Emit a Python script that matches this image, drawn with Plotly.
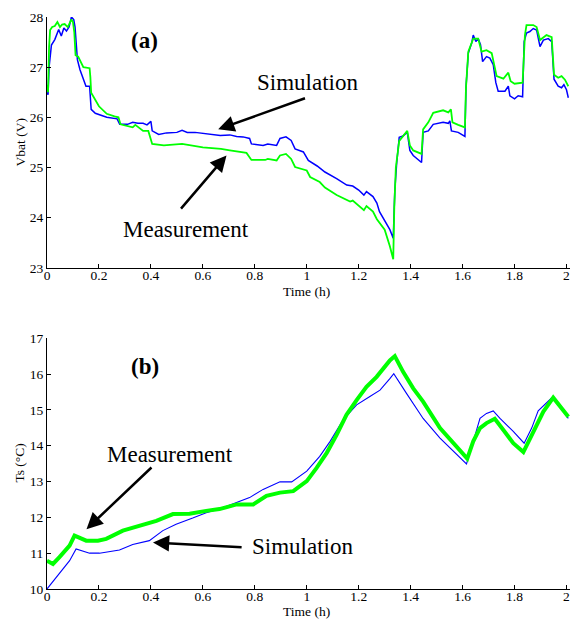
import plotly.graph_objects as go

# ---------------- (a) battery voltage ----------------
t_sim_a = [0.0, 0.004, 0.008, 0.017, 0.03, 0.045, 0.055, 0.065, 0.075, 0.085, 0.094, 0.103, 0.108, 0.112,
           0.117, 0.127, 0.137, 0.15, 0.164, 0.166, 0.17, 0.186, 0.21, 0.23, 0.27, 0.28, 0.31, 0.33, 0.35,
           0.37, 0.385, 0.4, 0.405, 0.43, 0.46, 0.5, 0.52, 0.54, 0.57, 0.6, 0.64, 0.667, 0.704, 0.73, 0.755,
           0.78, 0.787, 0.832, 0.85, 0.884, 0.897, 0.92, 0.94, 0.955, 0.987, 1.006, 1.04, 1.07, 1.115, 1.154,
           1.177, 1.2, 1.22, 1.23, 1.255, 1.27, 1.28, 1.3, 1.32, 1.333, 1.339, 1.346, 1.356, 1.371, 1.387,
           1.397, 1.41, 1.442, 1.448, 1.468, 1.487, 1.525, 1.545, 1.551, 1.557, 1.583, 1.609, 1.613, 1.622,
           1.635, 1.641, 1.651, 1.66, 1.669, 1.677, 1.692, 1.705, 1.718, 1.728, 1.737, 1.763, 1.776, 1.782,
           1.8, 1.814, 1.831, 1.837, 1.846, 1.859, 1.872, 1.885, 1.898, 1.911, 1.93, 1.943, 1.952, 1.968,
           1.981, 1.99, 2.0, 2.007]
v_sim_a = [26.5, 26.45, 27.0, 27.44, 27.55, 27.75, 27.62, 27.78, 27.72, 27.8, 28.0, 27.95, 27.8, 27.44,
           27.15, 26.95, 26.82, 26.62, 26.62, 26.5, 26.16, 26.08, 26.03, 26.0, 25.97, 25.86, 25.86, 25.9, 25.88,
           25.88, 25.85, 25.92, 25.73, 25.66, 25.69, 25.7, 25.74, 25.7, 25.7, 25.68, 25.66, 25.64, 25.65, 25.62, 25.61,
           25.58, 25.47, 25.44, 25.47, 25.44, 25.58, 25.61, 25.54, 25.37, 25.31, 25.14, 25.03, 24.91, 24.78, 24.65,
           24.63, 24.55, 24.45, 24.52, 24.42, 24.29, 24.12, 23.95, 23.76, 23.59, 24.54, 25.07, 25.6, 25.63, 25.7,
           25.34, 25.24, 25.1, 25.7, 25.73, 25.86, 25.9, 25.88, 25.93, 25.73, 25.7, 25.62, 26.59, 27.28,
           27.48, 27.64, 27.51, 27.57, 27.45, 27.11, 27.21, 27.18, 27.05, 26.69, 26.52, 26.52, 26.62, 26.43,
           26.37, 26.43, 26.41, 27.51, 27.68, 27.71, 27.77, 27.74, 27.41, 27.54, 27.57, 27.51, 26.76, 26.62,
           26.59, 26.65, 26.55, 26.39]

t_meas_a = [0.0, 0.004, 0.008, 0.012, 0.02, 0.03, 0.04, 0.05, 0.058, 0.068, 0.08, 0.094, 0.1, 0.105, 0.11,
            0.12, 0.14, 0.164, 0.167, 0.17, 0.2, 0.23, 0.26, 0.275, 0.283, 0.31, 0.33, 0.34, 0.37, 0.39, 0.405,
            0.45, 0.52, 0.6, 0.67, 0.704, 0.768, 0.787, 0.84, 0.85, 0.884, 0.897, 0.92, 0.94, 0.955, 1.0, 1.013,
            1.05, 1.07, 1.115, 1.167, 1.177, 1.22, 1.23, 1.255, 1.27, 1.3, 1.32, 1.333, 1.337, 1.343, 1.356,
            1.371, 1.387, 1.397, 1.41, 1.442, 1.448, 1.468, 1.487, 1.525, 1.545, 1.555, 1.561, 1.583, 1.609,
            1.613, 1.622, 1.641, 1.66, 1.673, 1.692, 1.712, 1.72, 1.731, 1.757, 1.776, 1.785, 1.8, 1.831, 1.84,
            1.846, 1.872, 1.885, 1.898, 1.923, 1.943, 1.952, 1.968, 1.981, 1.994, 2.007]
v_meas_a = [26.65, 26.5, 27.4, 27.74, 27.8, 27.82, 27.9, 27.8, 27.85, 27.86, 27.8, 27.95, 27.9, 27.7, 27.24,
            27.21, 27.0, 26.98, 26.8, 26.49, 26.22, 26.07, 26.02, 26.0, 25.86, 25.83, 25.8, 25.85, 25.73, 25.73, 25.47,
            25.44, 25.47, 25.4, 25.37, 25.34, 25.29, 25.15, 25.15, 25.17, 25.14, 25.24, 25.27, 25.17, 25.01, 24.94, 24.81,
            24.71, 24.6, 24.45, 24.32, 24.34, 24.15, 24.23, 24.12, 23.97, 23.76, 23.43, 23.17, 24.2, 25.0, 25.53,
            25.63, 25.73, 25.44, 25.34, 25.27, 25.76, 25.9, 26.09, 26.14, 26.1, 26.16, 25.9, 25.85, 25.8,
            26.59, 27.31, 27.57, 27.57, 27.31, 27.34, 27.28, 27.08, 26.82, 26.77, 26.89, 26.72, 26.67, 26.69, 27.64,
            27.84, 27.84, 27.8, 27.54, 27.64, 27.6, 26.85, 26.79, 26.82, 26.75, 26.62]

# ---------------- (b) surface temperature ----------------
t_sim_b = [0.0, 0.048, 0.087, 0.112, 0.164, 0.202, 0.279, 0.33, 0.394, 0.446, 0.497, 0.561, 0.613, 0.664,
           0.73, 0.78, 0.832, 0.897, 0.942, 1.0, 1.05, 1.09, 1.14, 1.192, 1.243, 1.282, 1.32, 1.335, 1.384,
           1.448, 1.513, 1.577, 1.615, 1.641, 1.667, 1.692, 1.718, 1.744, 1.795, 1.837, 1.866, 1.891, 1.917,
           1.945, 1.975, 2.007]
v_sim_b = [10.0, 10.43, 10.79, 11.12, 11.0, 11.0, 11.09, 11.24, 11.35, 11.63, 11.81, 11.98, 12.13, 12.23,
           12.41, 12.55, 12.78, 12.99, 12.99, 13.29, 13.7, 14.12, 14.72, 15.14, 15.37, 15.55, 15.87, 16.01, 15.46,
           14.76, 14.21, 13.75, 13.49, 14.12, 14.76, 14.9, 14.97, 14.76, 14.4, 14.07, 14.49, 14.97, 15.14,
           15.35, 15.09, 14.76]

t_meas_b = [0.0, 0.023, 0.048, 0.087, 0.106, 0.125, 0.151, 0.196, 0.228, 0.292, 0.357, 0.421, 0.485, 0.549,
            0.613, 0.664, 0.73, 0.794, 0.845, 0.897, 0.948, 1.0, 1.038, 1.077, 1.115, 1.153, 1.192, 1.23, 1.269,
            1.32, 1.339, 1.371, 1.41, 1.448, 1.513, 1.577, 1.618, 1.641, 1.667, 1.692, 1.724, 1.757, 1.795, 1.834,
            1.872, 1.911, 1.949, 1.975, 2.007]
v_meas_b = [10.79, 10.7, 10.89, 11.21, 11.49, 11.44, 11.35, 11.35, 11.4, 11.63, 11.76, 11.9, 12.09, 12.1,
            12.18, 12.23, 12.36, 12.36, 12.6, 12.69, 12.73, 13.01, 13.38, 13.8, 14.3, 14.86, 15.27, 15.64, 15.92,
            16.38, 16.5, 16.06, 15.6, 15.23, 14.49, 13.98, 13.64, 14.12, 14.49, 14.63, 14.75, 14.44, 14.07, 13.82,
            14.4, 14.95, 15.34, 15.09, 14.81]

x_ticks = [0, 0.2, 0.4, 0.6, 0.8, 1, 1.2, 1.4, 1.6, 1.8, 2]
x_ticktext = ["0", "0.2", "0.4", "0.6", "0.8", "1", "1.2", "1.4", "1.6", "1.8", "2"]
y_ticks_a = [23, 24, 25, 26, 27, 28]
y_ticks_b = [10, 11, 12, 13, 14, 15, 16, 17]

BLUE = "#0000ff"
GREEN = "#00ff00"
FONT = "Liberation Serif"

fig = go.Figure()
fig.add_trace(go.Scatter(x=t_sim_a, y=v_sim_a, mode="lines", line=dict(color=BLUE, width=1.5),
                         xaxis="x", yaxis="y", showlegend=False))
fig.add_trace(go.Scatter(x=t_meas_a, y=v_meas_a, mode="lines", line=dict(color=GREEN, width=1.8),
                         xaxis="x", yaxis="y", showlegend=False))
fig.add_trace(go.Scatter(x=t_sim_b, y=v_sim_b, mode="lines", line=dict(color=BLUE, width=1.1),
                         xaxis="x2", yaxis="y2", showlegend=False))
fig.add_trace(go.Scatter(x=t_meas_b, y=v_meas_b, mode="lines", line=dict(color=GREEN, width=4),
                         xaxis="x2", yaxis="y2", showlegend=False))

axis_common = dict(showline=True, linecolor="black", linewidth=1, ticks="inside", ticklen=4,
                   tickcolor="black", tickwidth=1, showgrid=False, zeroline=False,
                   tickfont=dict(family=FONT, size=13.5, color="black"))

fig.update_layout(
    width=580, height=619,
    margin=dict(l=47, r=10, t=12, b=30),
    paper_bgcolor="white", plot_bgcolor="white",
    xaxis=dict(domain=[0, 1], anchor="y", range=[0, 2.0135], tickvals=x_ticks, ticktext=x_ticktext,
               ticklabelstandoff=-5, **axis_common),
    yaxis=dict(domain=[0.5615, 1], anchor="x", range=[23, 28], tickvals=y_ticks_a, **axis_common),
    xaxis2=dict(domain=[0, 1], anchor="y2", range=[0, 2.0135], tickvals=x_ticks, ticktext=x_ticktext,
                ticklabelstandoff=-5, **axis_common),
    yaxis2=dict(domain=[0, 0.4385], anchor="x2", range=[10, 17], tickvals=y_ticks_b, **axis_common),
)

annots = []
big = dict(family=FONT, size=23, color="black")
bold = dict(family=FONT, size=23, color="black")
small = dict(family=FONT, size=13.5, color="black")

# panel labels
annots.append(dict(text="<b>(a)</b>", x=0.376, y=27.54, xref="x", yref="y", showarrow=False, font=bold))
annots.append(dict(text="<b>(b)</b>", x=0.376, y=16.2, xref="x2", yref="y2", showarrow=False, font=bold))
# text labels
annots.append(dict(text="Simulation", x=1.004, y=26.69, xref="x", yref="y", showarrow=False, font=big))
annots.append(dict(text="Measurement", x=0.534, y=23.77, xref="x", yref="y", showarrow=False, font=big))
annots.append(dict(text="Measurement", x=0.473, y=13.76, xref="x2", yref="y2", showarrow=False, font=big))
annots.append(dict(text="Simulation", x=0.985, y=11.18, xref="x2", yref="y2", showarrow=False, font=big))
# arrows
arrow = dict(text="", showarrow=True, arrowhead=2, arrowsize=1.3, arrowwidth=2.5, arrowcolor="black")
annots.append(dict(x=0.659, y=25.76, ax=0.999, ay=26.39, xref="x", yref="y", axref="x", ayref="y", **arrow))
annots.append(dict(x=0.691, y=25.24, ax=0.511, ay=24.15, xref="x", yref="y", axref="x", ayref="y", **arrow))
annots.append(dict(x=0.152, y=11.67, ax=0.408, ay=13.43, xref="x2", yref="y2", axref="x2", ayref="y2", **arrow))
annots.append(dict(x=0.408, y=11.30, ax=0.755, ay=11.16, xref="x2", yref="y2", axref="x2", ayref="y2", **arrow))
# axis titles
annots.append(dict(text="Time (h)", x=1.0, y=23, xref="x", yref="y", yshift=-24, showarrow=False, font=small))
annots.append(dict(text="Time (h)", x=1.0, y=10, xref="x2", yref="y2", yshift=-23, showarrow=False, font=small))
annots.append(dict(text="Vbat (V)", x=0, y=25.5, xref="x", yref="y", xshift=-27, textangle=-90,
                   showarrow=False, font=small))
annots.append(dict(text="Ts (°C)", x=0, y=13.5, xref="x2", yref="y2", xshift=-27, textangle=-90,
                   showarrow=False, font=small))
fig.update_layout(annotations=annots)

fig.write_html("out.html")
